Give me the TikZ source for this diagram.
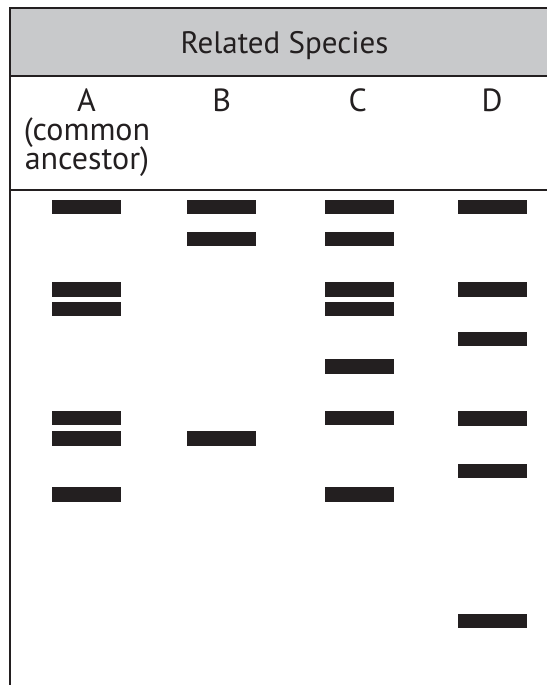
\documentclass[tikz,border=0pt]{standalone}
\usepackage{fontspec}
\setmainfont{PT Sans}
\definecolor{ink}{HTML}{231F20}
\definecolor{hdr}{HTML}{C8C9CB}
\begin{document}
\begin{tikzpicture}[x=1pt,y=-1pt,
  band/.style={fill=ink, minimum width=69pt, minimum height=14.3pt, inner sep=0pt, draw=none},
  rule/.style={draw=ink, line width=1.8pt},
  lbl/.style={anchor=base, inner sep=0pt, font=\fontsize{32}{30}\selectfont, text=ink},
  ttl/.style={anchor=base, inner sep=0pt, font=\fontsize{31}{30}\selectfont, text=ink}]
\useasboundingbox (0,0) rectangle (547,685);
\fill[hdr] (10,8) rectangle (547,76);
\draw[rule] (547,8) -- (10,8) -- (10,685);
\draw[rule] (10,76) -- (547,76);
\draw[rule] (10,190) -- (547,190);
\node[ttl] (title) at (284.5,54) {Related Species};
\node[lbl] (la) at (86.5,111) {A};
\node[lbl] (la2) at (87,140) {(common};
\node[lbl] (la3) at (87,169) {ancestor)};
\node[lbl] (lb) at (221.6,111) {B};
\node[lbl] (lc) at (357.8,111) {C};
\node[lbl] (ld) at (492,111) {D};
% column A
\foreach \y [count=\i] in {207.2,289.5,309.2,417.9,438.5,494.5}
  \node[band] (a\i) at (86.5,\y) {};
% column B
\foreach \y [count=\i] in {207.2,238.9,438.5}
  \node[band] (b\i) at (221.7,\y) {};
% column C
\foreach \y [count=\i] in {207.2,238.9,289.5,309.2,366.5,417.9,494.5}
  \node[band] (c\i) at (359,\y) {};
% column D
\foreach \y [count=\i] in {207.2,289.5,339.2,418.5,471.2,621.2}
  \node[band] (d\i) at (492.3,\y) {};
\end{tikzpicture}
\end{document}
